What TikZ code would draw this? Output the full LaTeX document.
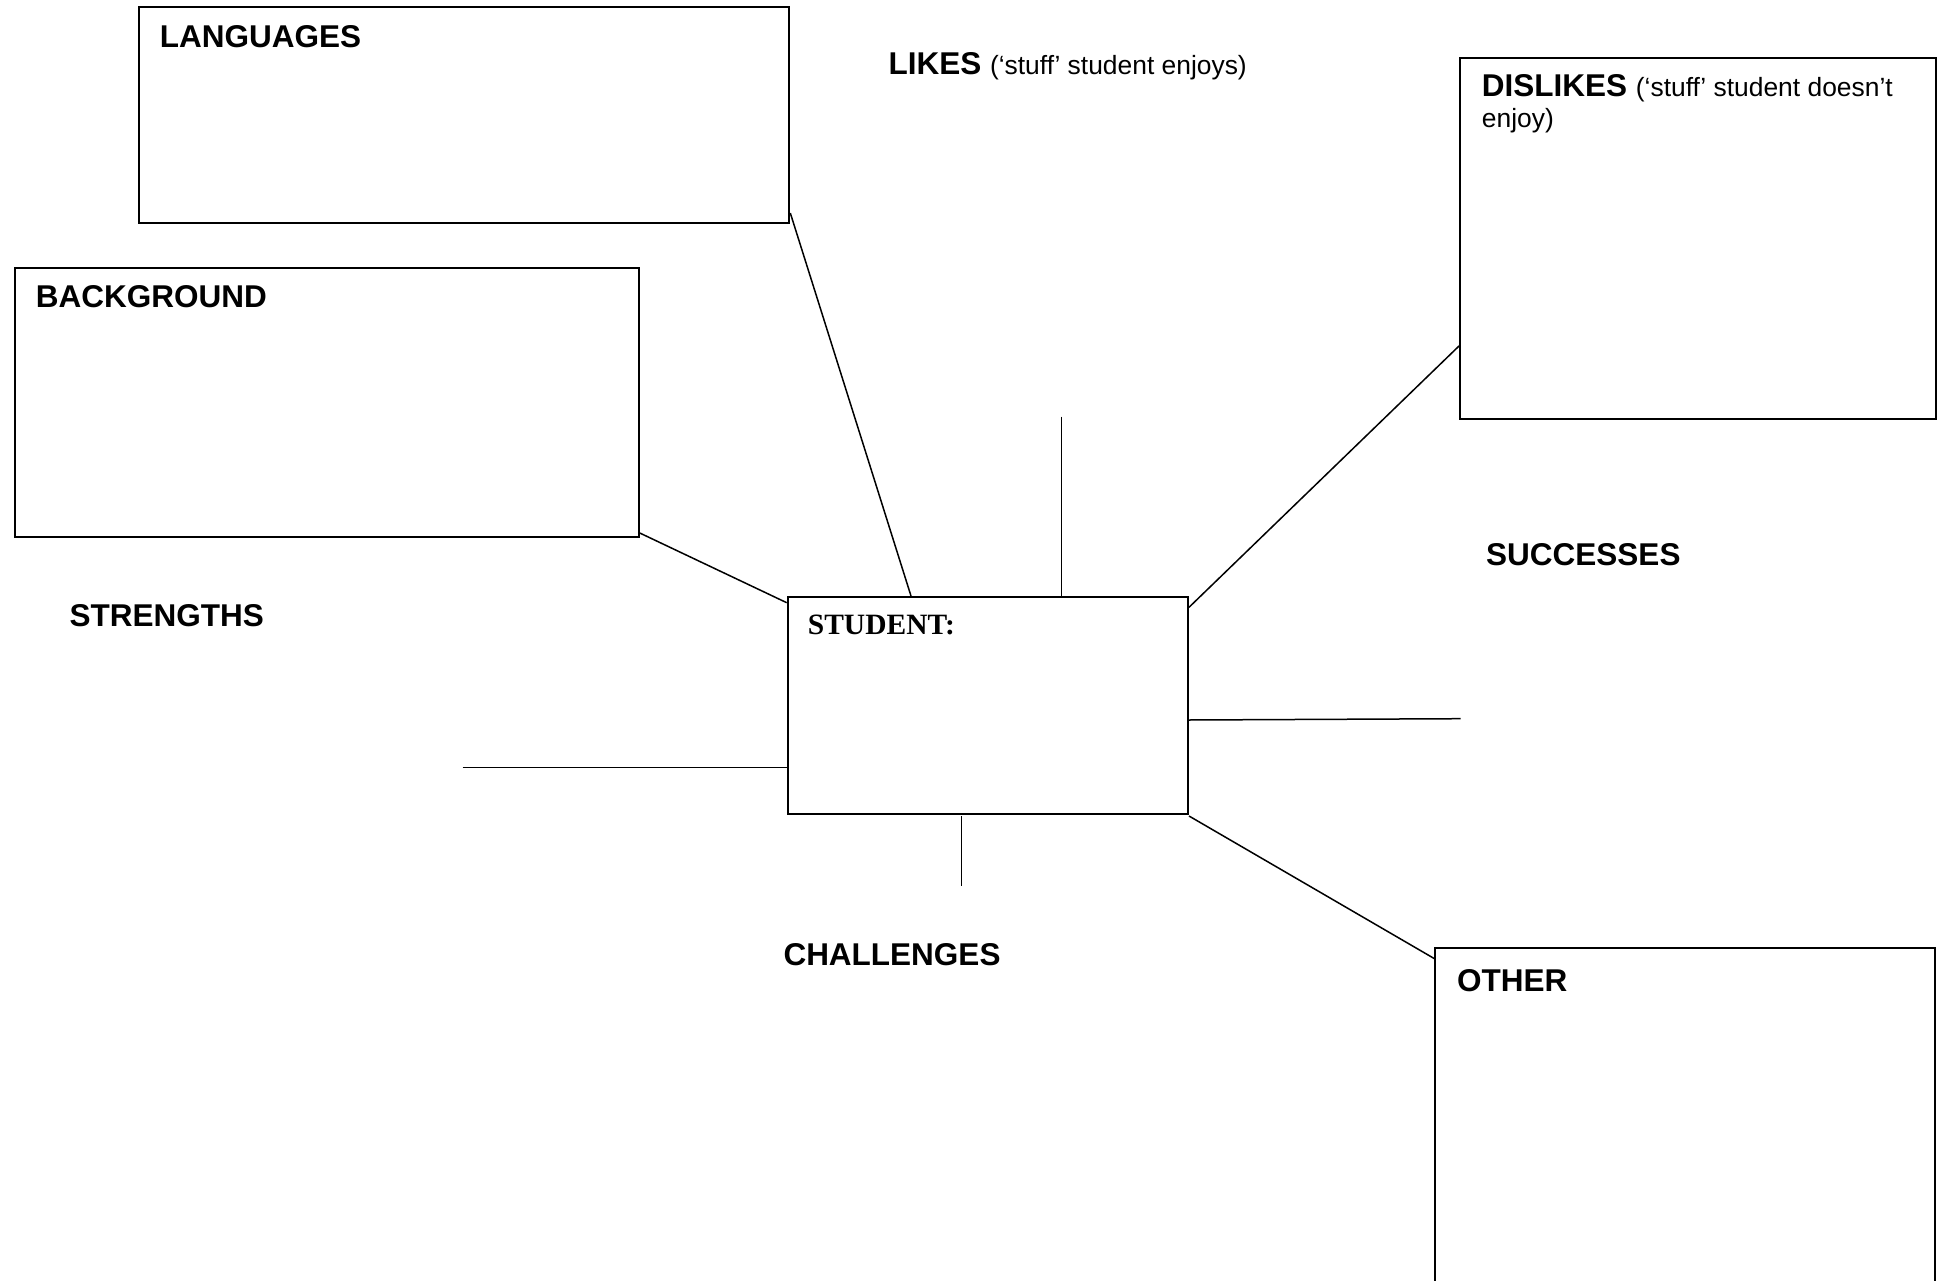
\documentclass[tikz,border=0pt]{standalone}
\usepackage{fontspec}
\setmainfont{Liberation Sans}
\newfontfamily\timesfont{Liberation Serif}
\begin{document}
\begin{tikzpicture}[x=1pt,y=-1pt,
  boxed/.style={draw=black,line width=2pt,anchor=north west,inner sep=0pt,
    minimum width=#1},
  conn/.style={draw=black,line width=1.5pt},
  head/.style={anchor=base west,inner sep=0pt,font=\fontsize{31.5}{38}\selectfont\bfseries},
  small/.style={font=\fontsize{26.4}{30.6}\selectfont\mdseries}
]
\clip (0,0) rectangle (1940,1281);
\fill[white] (0,0) rectangle (1940,1281);

% boxes
\node[boxed=650.5pt,minimum height=215.8pt] (lang) at (137.8,6) {};
\node[boxed=624pt,minimum height=269.6pt] (back) at (13.8,266.8) {};
\node[boxed=476pt,minimum height=361pt] (dis) at (1459,56.7) {};
\node[boxed=400.3pt,minimum height=216.8pt] (stu) at (786.7,596) {};
\node[draw=none,anchor=north west,inner sep=0pt,minimum width=500pt,minimum height=340pt] (oth) at (1435,948) {};
\draw[line width=2pt] (oth.south west) -- (oth.north west) -- (oth.north east) -- (oth.south east);

% texts
\node[head] (tlang) at (159.7,47.1) {LANGUAGES};
\node[head] (tback) at (35.7,307) {BACKGROUND};
\node[head] (tlikes) at (888.3,75) {LIKES \textmd{\fontsize{26.4}{30.6}\selectfont (‘stuff’ student enjoys)}};
\node[head,align=left,font=\fontsize{31.5}{30.6}\selectfont\bfseries] (tdis) at (1481.7,127.3)
  {DISLIKES {\mdseries\fontsize{26.4}{30.6}\selectfont (‘stuff’ student doesn’t}\\[0pt]{\mdseries\fontsize{26.4}{30.6}\selectfont enjoy)}};
\node[head] (tstr) at (69.3,626) {STRENGTHS};
\node[head] (tsuc) at (1486,565) {SUCCESSES};
\node[head] (tcha) at (783.3,965) {CHALLENGES};
\node[head] (toth) at (1456.8,991.6) {OTHER};
\node[anchor=base west,inner sep=0pt,font=\timesfont\fontsize{29.5}{34}\selectfont\bfseries] (tstu) at (807.7,634.3) {STUDENT:};

% free ends
\coordinate (likesend) at (1061.7,416.7);
\coordinate (sucend) at (1460.7,718.7);
\coordinate (strend) at (462.7,767.7);
\coordinate (chatop) at (961.7,816);
\coordinate (chaend) at (961.7,886);

% connectors
\draw[conn] (lang.north east |- 0,213) -- (911,596);
\draw[conn] (638.3,532.3) -- (stu.west |- 0,602.7);
\draw[conn] (likesend) -- (likesend |- stu.north);
\draw[conn] (dis.west |- 0,346) -- (stu.east |- 0,607.3);
\draw[conn] (stu.east |- 0,720) -- (sucend);
\draw[conn] (strend) -- (stu.west |- strend);
\draw[conn] (chatop) -- (chaend);
\draw[conn] (stu.east |- 0,816) -- (oth.west |- 0,959);
\end{tikzpicture}
\end{document}
